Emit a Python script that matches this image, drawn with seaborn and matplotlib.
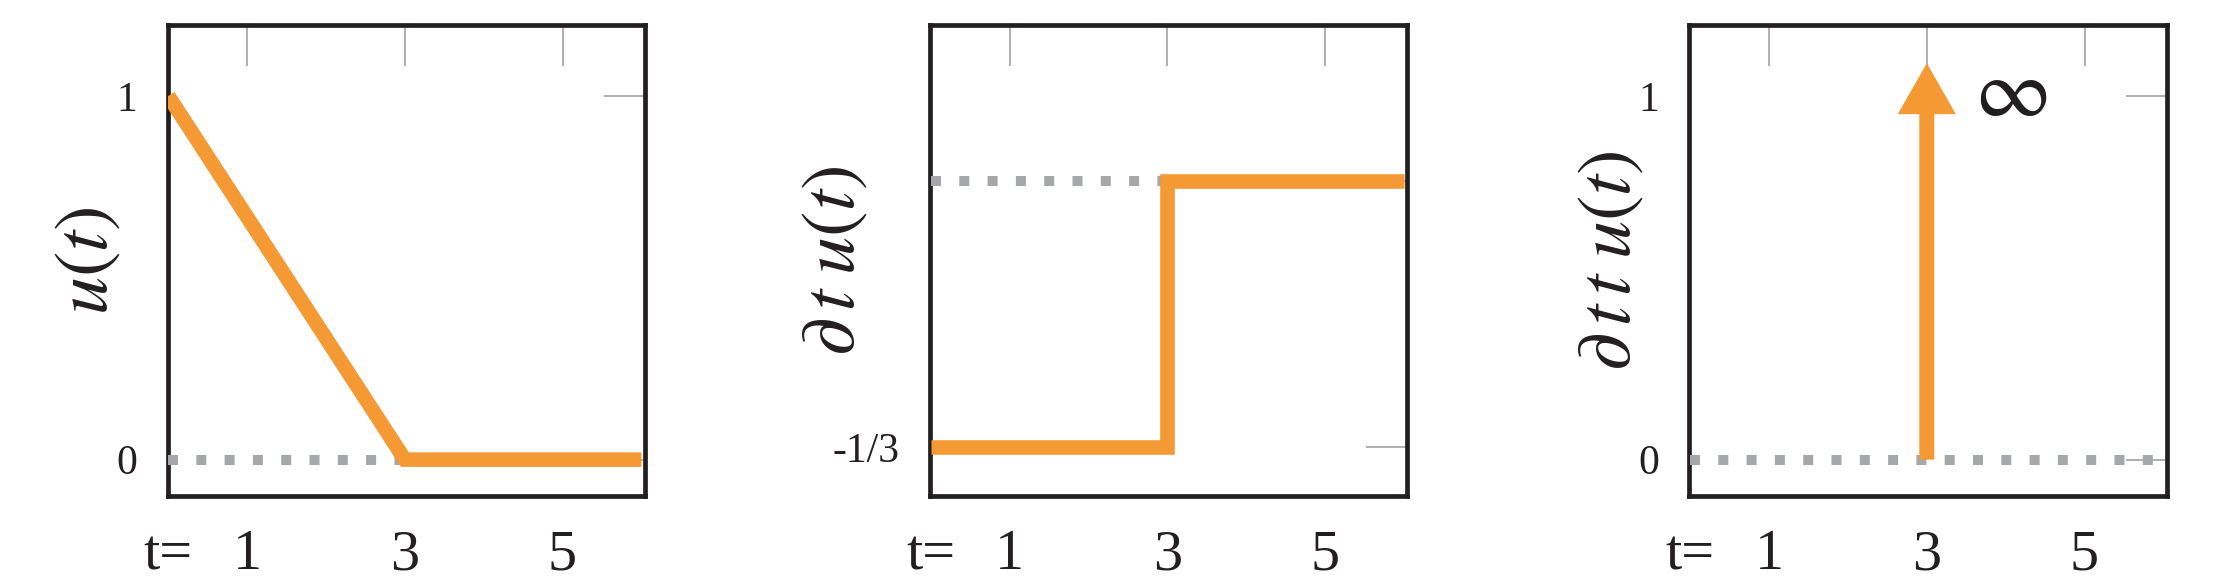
import matplotlib
matplotlib.use('Agg')
import matplotlib.pyplot as plt
import seaborn as sns
import pandas as pd

# Data
t_u = [0, 3, 6]
u_vals = [1, 0, 0]

t_du = [0, 3, 3, 6]
du_vals = [-1/3, -1/3, 0, 0]

t_base = [0, 6]
base_vals = [0, 0]

# delta spike in the second derivative
spike_t = [3, 3]
spike_y = [0, 1.09]

xticks = [0, 1, 3, 5]
xticklabels = ['t=', '1', '3', '5']
yticks_u = [0, 1]
yticklabels_u = ['0', '1']
yticks_du = [-1/3, 0]
yticklabels_du = ['-1/3', '']
ylabels = [r'$u(t)$', r'$\partial\,t\;u(t)$', r'$\partial\,t\,t\;u(t)$']

orange = '#f49933'
dotgray = '#a6a7aa'
tickgray = '#9a9a9a'
ink = '#231f20'

sns.set_theme(style='white')
plt.rcParams['font.family'] = ['Liberation Serif', 'DejaVu Serif']
plt.rcParams['mathtext.fontset'] = 'stix'
plt.rcParams['text.color'] = ink

fig = plt.figure(figsize=(22.28, 5.88), dpi=100)
lefts = [0.0752, 0.4174, 0.7583]
axes = [fig.add_axes([l, 0.1565, 0.2141, 0.801]) for l in lefts]

for i, ax in enumerate(axes):
    # dotted zero baseline
    sns.lineplot(x=t_base, y=base_vals, ax=ax, color=dotgray, lw=7.2,
                 linestyle=(0, (1, 1.83)), dash_capstyle='butt', zorder=3)

sns.lineplot(x=t_u, y=u_vals, ax=axes[0], color=orange, lw=10.5,
             estimator=None, sort=False, solid_capstyle='butt',
             solid_joinstyle='miter', zorder=4)
sns.lineplot(x=t_du, y=du_vals, ax=axes[1], color=orange, lw=10.5,
             estimator=None, sort=False, solid_capstyle='butt',
             solid_joinstyle='miter', zorder=4)
axes[2].annotate('', xy=(spike_t[1], spike_y[1]), xytext=(spike_t[0], spike_y[0]),
                 arrowprops=dict(arrowstyle='simple,head_length=3.67,head_width=4.18,tail_width=1.08',
                                 mutation_scale=10, fc=orange, ec='none', lw=0,
                                 shrinkA=0, shrinkB=0), zorder=4)
axes[2].text(4.06, 1.0, r'$\infty$', fontsize=60, ha='center', va='center')

label_x = [-0.095, -0.126, -0.093]
for i, ax in enumerate(axes):
    ax.set_xlim(-0.01, 6.04)
    if i == 1:
        ax.set_ylim(-0.395, 0.196)
        ax.set_yticks(yticks_du)
        ax.set_yticklabels(yticklabels_du)
    else:
        ax.set_ylim(-0.1, 1.195)
        ax.set_yticks(yticks_u)
        ax.set_yticklabels(yticklabels_u)
    ax.set_xticks(xticks)
    ax.set_xticklabels(xticklabels)
    ax.tick_params(axis='both', which='major', direction='in', length=29.5, width=1.1,
                   color=tickgray, top=True, right=True, labelcolor=ink)
    ax.tick_params(axis='x', labelsize=42, pad=24)
    ax.tick_params(axis='y', labelsize=30, pad=22)
    t0 = ax.xaxis.get_major_ticks()[0]
    t0.tick1line.set_visible(False)
    t0.tick2line.set_visible(False)
    for s in ax.spines.values():
        s.set_visible(True)
        s.set_color(ink)
        s.set_linewidth(3.4)
    ax.set_xlabel('')
    ax.set_ylabel(ylabels[i], fontsize=55, color=ink)
    ax.yaxis.set_label_coords(label_x[i], 0.5)

fig.savefig('out.png', dpi=100, facecolor='white')
